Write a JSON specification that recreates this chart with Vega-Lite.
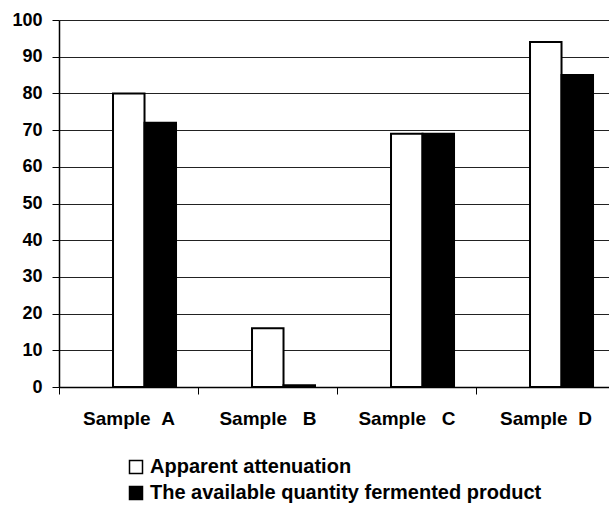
{
  "$schema": "https://vega.github.io/schema/vega-lite/v6.json",
  "autosize": "none",
  "width": 556,
  "height": 367,
  "padding": {"left": 59, "top": 20, "right": 0, "bottom": 120},
  "background": "white",
  "data": {
    "values": [
      {"sample": "Sample\u00a0\u00a0A", "series": "Apparent attenuation", "value": 80},
      {"sample": "Sample\u00a0\u00a0A", "series": "The available quantity fermented product", "value": 72},
      {"sample": "Sample\u00a0\u00a0\u00a0B", "series": "Apparent attenuation", "value": 16},
      {"sample": "Sample\u00a0\u00a0\u00a0B", "series": "The available quantity fermented product", "value": 0.5},
      {"sample": "Sample\u00a0\u00a0\u00a0C", "series": "Apparent attenuation", "value": 69},
      {"sample": "Sample\u00a0\u00a0\u00a0C", "series": "The available quantity fermented product", "value": 69},
      {"sample": "Sample\u00a0\u00a0D", "series": "Apparent attenuation", "value": 94},
      {"sample": "Sample\u00a0\u00a0D", "series": "The available quantity fermented product", "value": 85}
    ]
  },
  "config": {
    "view": {"stroke": null},
    "font": "Liberation Sans"
  },
  "mark": {"type": "bar", "stroke": "black", "strokeWidth": 2},
  "encoding": {
    "x": {
      "field": "sample",
      "type": "nominal",
      "sort": null,
      "scale": {"paddingInner": 0, "paddingOuter": 0},
      "axis": {
        "title": null,
        "labelAngle": 0,
        "tickBand": "extent",
        "tickSize": 7,
        "tickColor": "black",
        "domainColor": "black",
        "domainWidth": 1.5,
        "labelFont": "Liberation Sans",
        "labelFontWeight": "bold",
        "labelFontSize": 19,
        "labelColor": "black",
        "labelPadding": 15
      }
    },
    "xOffset": {
      "field": "series",
      "type": "nominal",
      "sort": null,
      "scale": {
        "domain": ["_", "Apparent attenuation", "The available quantity fermented product"],
        "paddingInner": 0,
        "paddingOuter": 0.706,
        "align": 0.506
      }
    },
    "y": {
      "field": "value",
      "type": "quantitative",
      "scale": {"domain": [0, 100], "nice": false},
      "axis": {
        "title": null,
        "values": [0, 10, 20, 30, 40, 50, 60, 70, 80, 90, 100],
        "grid": true,
        "gridColor": "#222",
        "gridWidth": 1,
        "domainColor": "black",
        "domainWidth": 1.5,
        "tickColor": "black",
        "tickSize": 7,
        "labelFont": "Liberation Sans",
        "labelFontWeight": "bold",
        "labelFontSize": 18,
        "labelColor": "black",
        "labelPadding": 10
      }
    },
    "fill": {
      "field": "series",
      "type": "nominal",
      "sort": null,
      "scale": {"range": ["white", "black"]},
      "legend": {
        "title": null,
        "orient": "none",
        "legendX": 67,
        "legendY": 437,
        "symbolType": "square",
        "symbolSize": 169,
        "symbolStrokeColor": "black",
        "symbolStrokeWidth": 1.5,
        "labelFont": "Liberation Sans",
        "labelFontWeight": "bold",
        "labelFontSize": 20,
        "labelColor": "black",
        "labelOffset": 4,
        "labelLimit": 500,
        "rowPadding": 6
      }
    }
  }
}
